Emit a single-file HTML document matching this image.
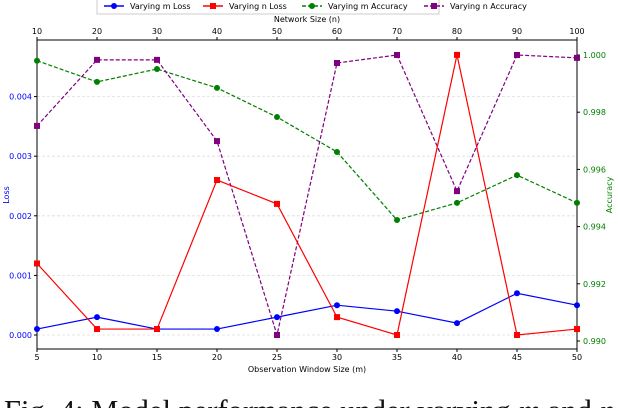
<!DOCTYPE html>
<html><head><meta charset="utf-8"><style>
html,body{margin:0;padding:0;background:#fff;width:618px;height:408px;overflow:hidden;}
svg text{font-family:"DejaVu Sans","Liberation Sans",sans-serif;}
</style></head><body>
<svg id="chart" width="618" height="408" viewBox="0 0 618 408" xmlns="http://www.w3.org/2000/svg">
<g id="grid"></g>
<g id="axes"></g>
<g id="series"></g>
<g id="legend">
 <rect x="97" y="-3" width="342" height="17" fill="#fff" stroke="#ccc"/>
</g>
<text x="4" y="421" font-size="30.5" style="font-family:'Liberation Serif',serif" fill="#111">Fig. 4: Model performance under varying <tspan font-style="italic">m</tspan> and <tspan font-style="italic">n</tspan></text>
</svg>
<script>
const mValues=[5,10,15,20,25,30,35,40,45,50];
const nValues=[10,20,30,40,50,60,70,80,90,100];
const mLoss=[0.0001,0.0003,0.0001,0.0001,0.0003,0.0005,0.0004,0.0002,0.0007,0.0005];
const nLoss=[0.0012,0.0001,0.0001,0.0026,0.0022,0.0003,0.0000,0.0047,0.0000,0.0001];
const mAcc=[0.9998,0.99906,0.99951,0.99885,0.99783,0.99661,0.99423,0.99483,0.9958,0.99483];
const nAcc=[0.99752,0.99983,0.99983,0.99699,0.99021,0.99972,1.0,0.99524,1.0,0.9999];
const lossTicks=[0,0.001,0.002,0.003,0.004];
const lossTickLabels=["0.000","0.001","0.002","0.003","0.004"];
const accTicks=[0.990,0.992,0.994,0.996,0.998,1.000];
const accTickLabels=["0.990","0.992","0.994","0.996","0.998","1.000"];

const NS="http://www.w3.org/2000/svg";
const L=37,R=577,T=40,B=349;
const xm=v=>L+(v-5)/45*(R-L);
const xn=v=>L+(v-10)/90*(R-L);
const yL=v=>335-v*59.6e3;
const yA=v=>55+(1-v)*28600;
function mk(tag,attrs,parent,txt){const e=document.createElementNS(NS,tag);for(const k in attrs)e.setAttribute(k,attrs[k]);if(txt!==undefined)e.textContent=txt;parent.appendChild(e);return e;}
const grid=document.getElementById('grid'),axes=document.getElementById('axes'),series=document.getElementById('series'),legend=document.getElementById('legend');
lossTicks.forEach((t,i)=>{
 const g=mk('line',{x1:L,x2:R,y1:yL(t),y2:yL(t),stroke:'#ddd','stroke-dasharray':'3,2','stroke-width':0.8},grid);
 
 
 mk('line',{x1:L-3,x2:L,y1:yL(t),y2:yL(t),stroke:'#000'},axes);
 const tx=mk('text',{x:L-5,y:yL(t)+3,'font-size':8,'text-anchor':'end',fill:'#0000ff'},axes,lossTickLabels[i]);
 
 
});
accTicks.forEach((t,i)=>{
 mk('line',{x1:R,x2:R+3,y1:yA(t),y2:yA(t),stroke:'#000'},axes);
 const tx=mk('text',{x:R+6,y:yA(t)+3,'font-size':8,fill:'#008000'},axes,accTickLabels[i]);
 
 
});
mValues.forEach(v=>{
 mk('line',{x1:xm(v),x2:xm(v),y1:B,y2:B+3,stroke:'#000'},axes);
 const tx=mk('text',{x:xm(v),y:B+11,'font-size':8,'text-anchor':'middle',fill:'#000'},axes,String(v));
 
 
});
nValues.forEach(v=>{
 mk('line',{x1:xn(v),x2:xn(v),y1:T,y2:T-3,stroke:'#000'},axes);
 const tx=mk('text',{x:xn(v),y:T-6,'font-size':8,'text-anchor':'middle',fill:'#000'},axes,String(v));
 
 
});
const frame=mk('rect',{x:L,y:T,width:R-L,height:B-T,fill:'none',stroke:'#000','stroke-width':1},axes);


let t;
t=mk('text',{x:(L+R)/2,y:372,'font-size':8,'text-anchor':'middle'},axes,'Observation Window Size (m)');


t=mk('text',{x:(L+R)/2,y:22,'font-size':8,'text-anchor':'middle'},axes,'Network Size (n)');


t=mk('text',{x:0,y:0,'font-size':8,'text-anchor':'middle',fill:'#0000ff',transform:'translate(9,195) rotate(-90)'},axes,'Loss');


t=mk('text',{x:0,y:0,'font-size':8,'text-anchor':'middle',fill:'#008000',transform:'translate(612,195) rotate(-90)'},axes,'Accuracy');



function draw(vals,xf,yf,color,dash,shape,name){
 const pts=vals.map((v,i)=>[xf(i),yf(v)]);
 const pl=mk('polyline',{points:pts.map(p=>p.join(',')).join(' '),fill:'none',stroke:color,'stroke-width':1.2,'stroke-dasharray':dash},series);
 
 
 pts.forEach(p=>{
  let m;
  if(shape==='c')m=mk('circle',{cx:p[0],cy:p[1],r:3,fill:color},series);
  else m=mk('rect',{x:p[0]-3,y:p[1]-3,width:6,height:6,fill:color},series);
  
  
 });
}
draw(mAcc,i=>xm(mValues[i]),yA,'#008000','4,2','c','m-accuracy');
draw(nAcc,i=>xn(nValues[i]),yA,'#800080','4,2','s','n-accuracy');
draw(mLoss,i=>xm(mValues[i]),yL,'#0000ff','none','c','m-loss');
draw(nLoss,i=>xn(nValues[i]),yL,'#ff0000','none','s','n-loss');

const items=[['Varying m Loss','#0000ff','none','c',104],['Varying n Loss','#ff0000','none','s',203],['Varying m Accuracy','#008000','4,2','c',302],['Varying n Accuracy','#800080','4,2','s',424]];
items.forEach(it=>{
 const x=it[4];
 mk('line',{x1:x,x2:x+20,y1:6,y2:6,stroke:it[1],'stroke-width':1.5,'stroke-dasharray':it[2]},legend);
 if(it[3]==='c')mk('circle',{cx:x+10,cy:6,r:3,fill:it[1]},legend);else mk('rect',{x:x+7,y:3,width:6,height:6,fill:it[1]},legend);
 const tx=mk('text',{x:x+26,y:9,'font-size':8},legend,it[0]);
 
 
});
</script>
</body></html>
